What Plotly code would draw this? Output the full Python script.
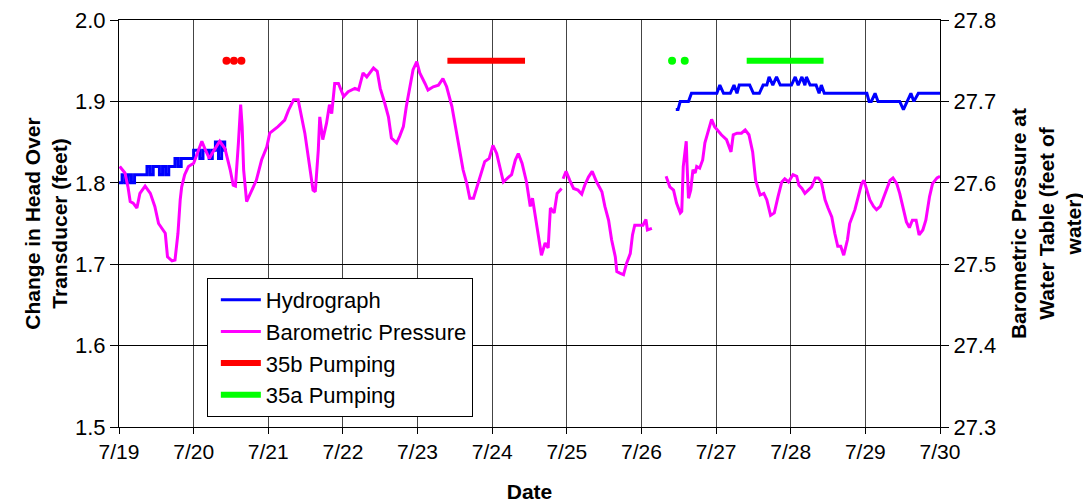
import plotly.graph_objects as go

# ---- data (x = days since 7/19 00:00) ----
day_labels = ["7/19", "7/20", "7/21", "7/22", "7/23", "7/24", "7/25",
              "7/26", "7/27", "7/28", "7/29", "7/30"]

# Hydrograph, first record (hourly, quantised to 0.01 ft)
hydro1_hours = list(range(35)) + [34.7]
hydro1_head = [1.80, 1.81, 1.80, 1.81, 1.80, 1.81, 1.81, 1.81, 1.81, 1.82,
               1.81, 1.82, 1.82, 1.81, 1.82, 1.81, 1.82, 1.82, 1.83, 1.82,
               1.83, 1.83, 1.83, 1.83, 1.84, 1.84, 1.83, 1.84, 1.84, 1.83,
               1.84, 1.85, 1.83, 1.85, 1.84, 1.84]

# Hydrograph, second record
hydro2_day = [7.46, 7.49, 7.52, 7.63, 7.67, 8.01, 8.05, 8.10, 8.19, 8.24,
              8.28, 8.31, 8.45, 8.50, 8.58, 8.63, 8.68, 8.71, 8.76, 8.81,
              8.86, 9.01, 9.06, 9.10, 9.15, 9.19, 9.21, 9.26, 9.34, 9.38,
              9.41, 9.45, 10.02, 10.05, 10.08, 10.13, 10.17, 10.46, 10.51,
              10.56, 10.61, 10.65, 10.71, 11.00]
hydro2_head = [1.89, 1.89, 1.90, 1.90, 1.91, 1.91, 1.92, 1.91, 1.91, 1.92,
               1.91, 1.92, 1.92, 1.91, 1.91, 1.92, 1.92, 1.93, 1.92, 1.93,
               1.92, 1.92, 1.93, 1.92, 1.93, 1.92, 1.93, 1.92, 1.92, 1.91,
               1.92, 1.91, 1.91, 1.90, 1.90, 1.91, 1.90, 1.90, 1.89,
               1.90, 1.91, 1.90, 1.91, 1.91]

# Barometric pressure (feet of water); None = missing record
baro_day = [0.01, 0.08, 0.12, 0.15, 0.19, 0.24, 0.28, 0.35, 0.42, 0.48,
            0.53, 0.57, 0.62, 0.65, 0.71, 0.75, 0.79, 0.82, 0.84, 0.88,
            0.93, 1.00, 1.04, 1.11, 1.15, 1.21, 1.26, 1.35, 1.42, 1.49,
            1.53, 1.56, 1.60, 1.63, 1.65, 1.67, 1.71, 1.76, 1.80, 1.84,
            1.91, 1.98, 2.02, 2.13, 2.22, 2.27, 2.34, 2.40, 2.49, 2.56,
            2.60, 2.63, 2.67, 2.69, 2.73, 2.78, 2.82, 2.85, 2.89, 2.94,
            3.01, 3.07, 3.16, 3.21, 3.27, 3.32, 3.41, 3.46, 3.50, 3.56,
            3.61, 3.65, 3.72, 3.76, 3.81, 3.85, 3.90, 3.94, 3.99, 4.03,
            4.10, 4.14, 4.21, 4.28, 4.34, 4.39, 4.46, 4.50, 4.57, 4.61,
            4.66, 4.70, 4.75, 4.79, 4.86, 4.90, 4.96, 5.01, 5.06, 5.10,
            5.15, 5.22, 5.26, 5.31, 5.35, 5.40, 5.46, 5.51, 5.54, 5.60,
            5.66, 5.71, 5.75, 5.78, 5.83, 5.87, 5.93, 5.94, 5.95, 5.99,
            6.04, 6.09, 6.15, 6.20, 6.24, 6.29, 6.34, 6.40, 6.47, 6.51,
            6.56, 6.60, 6.65, 6.67, 6.71, 6.76, 6.80, 6.85, 6.88, 6.91,
            7.02, 7.06, 7.08, 7.14, 7.20, 7.33, 7.38, 7.43, 7.47, 7.52,
            7.54, 7.56, 7.60, 7.61, 7.63, 7.66, 7.69, 7.72, 7.74, 7.78,
            7.82, 7.85, 7.90, 7.94, 7.98, 8.03, 8.07, 8.14, 8.20, 8.23,
            8.28, 8.34, 8.39, 8.44, 8.49, 8.53, 8.59, 8.64, 8.68, 8.73,
            8.78, 8.83, 8.88, 8.92, 8.97, 9.03, 9.08, 9.11, 9.15, 9.19,
            9.24, 9.28, 9.33, 9.37, 9.41, 9.46, 9.50, 9.55, 9.59, 9.63,
            9.67, 9.71, 9.76, 9.79, 9.86, 9.91, 9.95, 9.98, 10.02, 10.06,
            10.11, 10.15, 10.20, 10.24, 10.29, 10.33, 10.37, 10.42, 10.46,
            10.51, 10.55, 10.59, 10.63, 10.68, 10.72, 10.77, 10.81, 10.86,
            10.90, 10.96, 11.00]
baro_ft = [27.620, 27.612, 27.595, 27.577, 27.575, 27.569, 27.587, 27.596, 27.587, 27.571,
           27.550, 27.544, 27.538, 27.509, 27.504, 27.505, 27.538, 27.579, 27.595, 27.610,
           27.620, 27.624, 27.634, 27.651, 27.642, 27.630, 27.638, 27.651, 27.642, 27.616,
           27.597, 27.596, 27.649, 27.696, 27.669, 27.616, 27.577, 27.587, 27.597, 27.603,
           27.628, 27.644, 27.661, 27.669, 27.677, 27.689, 27.702, 27.702, 27.661, 27.620,
           27.591, 27.589, 27.640, 27.681, 27.653, 27.673, 27.696, 27.685, 27.722, 27.722,
           27.706, 27.712, 27.716, 27.714, 27.735, 27.730, 27.741, 27.737, 27.716, 27.698,
           27.681, 27.655, 27.649, 27.657, 27.669, 27.694, 27.722, 27.739, 27.749, 27.735,
           27.722, 27.714, 27.718, 27.720, 27.728, 27.718, 27.694, 27.673, 27.632, 27.616,
           27.599, 27.581, 27.581, 27.593, 27.612, 27.626, 27.630, 27.646, 27.636, 27.620,
           27.601, 27.607, 27.610, 27.628, 27.636, 27.624, 27.601, 27.571, 27.581, 27.546,
           27.511, 27.526, 27.520, 27.569, 27.563, 27.587, 27.593, None, 27.605, 27.614,
           27.603, 27.593, 27.591, 27.586, 27.597, 27.607, 27.614, 27.601, 27.589, 27.571,
           27.554, 27.530, 27.509, 27.491, 27.489, 27.487, 27.501, 27.513, 27.536, 27.548,
           27.548, 27.555, 27.542, 27.544, None, 27.608, 27.595, 27.591, 27.575, 27.563,
           27.565, 27.620, 27.651, 27.624, 27.581, 27.591, 27.616, 27.612, 27.620, 27.618,
           27.628, 27.649, 27.665, 27.678, 27.669, 27.663, 27.659, 27.653, 27.638, 27.659,
           27.661, 27.661, 27.665, 27.659, 27.638, 27.603, 27.585, 27.587, 27.579, 27.560,
           27.563, 27.583, 27.601, 27.605, 27.601, 27.610, 27.608, 27.597, 27.593, 27.587,
           27.591, 27.595, 27.606, 27.606, 27.601, 27.579, 27.569, 27.558, 27.538, 27.522,
           27.522, 27.511, 27.530, 27.550, 27.567, 27.585, 27.599, 27.603, 27.591, 27.579,
           27.571, 27.567, 27.571, 27.581, 27.595, 27.603, 27.606, 27.599, 27.587,
           27.567, 27.552, 27.545, 27.554, 27.554, 27.536, 27.542, 27.554, 27.583,
           27.599, 27.606, 27.608]

# Pumping periods (shown at a fixed level on the head axis)
pump_level = 1.95
pump35b_dots = [1.44, 1.54, 1.64]
pump35b_run = [4.40, 5.44]
pump35a_dots = [7.41, 7.58]
pump35a_run = [8.41, 9.44]

FONT = "Liberation Sans, Arial, sans-serif"
BLUE, MAGENTA, RED, GREEN = "#0000FF", "#FF00FF", "#FF0000", "#00FF00"

fig = go.Figure()
fig.add_trace(go.Scatter(x=[h / 24 for h in hydro1_hours], y=hydro1_head,
                         mode="lines", line=dict(color=BLUE, width=3, shape="hv"),
                         name="Hydrograph", legendgroup="h"))
fig.add_trace(go.Scatter(x=hydro2_day, y=hydro2_head, mode="lines",
                         line=dict(color=BLUE, width=3), name="Hydrograph",
                         legendgroup="h", showlegend=False))
fig.add_trace(go.Scatter(x=baro_day, y=baro_ft, mode="lines", yaxis="y2",
                         line=dict(color=MAGENTA, width=3), connectgaps=False,
                         name="Barometric Pressure"))
fig.add_trace(go.Scatter(x=pump35b_run, y=[pump_level] * len(pump35b_run), mode="lines",
                         line=dict(color=RED, width=6), name="35b Pumping", legendgroup="b"))
fig.add_trace(go.Scatter(x=pump35b_dots, y=[pump_level] * len(pump35b_dots), mode="markers",
                         marker=dict(color=RED, size=8, line=dict(width=0)),
                         showlegend=False, legendgroup="b", name="35b Pumping"))
fig.add_trace(go.Scatter(x=pump35a_run, y=[pump_level] * len(pump35a_run), mode="lines",
                         line=dict(color=GREEN, width=6), name="35a Pumping", legendgroup="a"))
fig.add_trace(go.Scatter(x=pump35a_dots, y=[pump_level] * len(pump35a_dots), mode="markers",
                         marker=dict(color=GREEN, size=8, line=dict(width=0)),
                         showlegend=False, legendgroup="a", name="35a Pumping"))

# page has an 8 px body margin: figure occupies page x 8..1091, y 8..503
fig.update_layout(
    width=1083, height=495,
    margin=dict(l=111, r=151, t=12, b=76),
    paper_bgcolor="white", plot_bgcolor="white",
    font=dict(family=FONT, size=22, color="black"),
    showlegend=True,
    legend=dict(x=0.107, y=0.366, xanchor="left", yanchor="top",
                bgcolor="white", bordercolor="black", borderwidth=1,
                font=dict(size=22), traceorder="normal", tracegroupgap=0,
                itemwidth=40, indentation=8),
    xaxis=dict(range=[0, 11], tickmode="array", tickvals=list(range(len(day_labels))),
               ticktext=day_labels, showgrid=True, gridcolor="#444444", gridwidth=1,
               showline=True, linecolor="black", linewidth=1, mirror=True,
               ticks="outside", ticklen=6, tickcolor="black", zeroline=False,
               automargin=False, tickfont=dict(size=21), ticklabeloverflow="allow",
               title=dict(text="<b>Date</b>", font=dict(size=21), standoff=22)),
    yaxis=dict(range=[1.5, 2.0], dtick=0.1, tickformat=".1f", showgrid=True,
               gridcolor="black", gridwidth=1, showline=True, linecolor="black",
               linewidth=1, ticks="outside", ticklen=8, tickcolor="black", zeroline=False,
               automargin=False, tickfont=dict(size=22), ticklabeloverflow="allow",
               title=dict(text="<b>Change in Head Over<br>Transducer (feet)</b>",
                          font=dict(size=21), standoff=1)),
    yaxis2=dict(range=[27.3, 27.8], dtick=0.1, tickformat=".1f", overlaying="y",
                side="right", showgrid=False, showline=True, linecolor="black",
                linewidth=1, ticks="outside", ticklen=8, tickcolor="black", zeroline=False,
                automargin=False, tickfont=dict(size=22), ticklabeloverflow="allow",
                title=dict(text="<b>Barometric Pressure at<br>Water Table (feet of<br>water)</b>",
                           font=dict(size=21), standoff=16)),
)

fig.write_html("out.html")
